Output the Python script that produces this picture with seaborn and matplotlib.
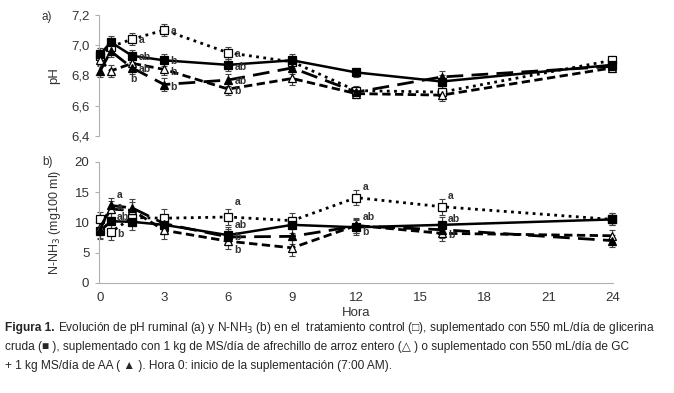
import matplotlib
matplotlib.use("Agg")
import matplotlib.pyplot as plt
import seaborn as sns
import pandas as pd

sns.set_style("white")
plt.rcParams['font.family'] = ['Liberation Sans', 'DejaVu Sans']

# ---- data ----
hours = [0, 0.5, 1.5, 3, 6, 9, 12, 16, 24]
treatments = ["Control", "Glicerina cruda", "Afrechillo de arroz", "GC + AA"]

ph_control = [6.93, 6.99, 7.04, 7.10, 6.95, 6.89, 6.70, 6.69, 6.90]
ph_gc = [6.94, 7.02, 6.93, 6.90, 6.87, 6.90, 6.82, 6.76, 6.87]
ph_aa = [6.90, 6.83, 6.88, 6.84, 6.71, 6.78, 6.68, 6.67, 6.85]
ph_gcaa = [6.83, 6.96, 6.85, 6.74, 6.77, 6.85, 6.69, 6.79, 6.86]
ph_err = [0.04, 0.04, 0.04, 0.04, 0.04, 0.04, 0.03, 0.04, 0.03]

nh3_control = [10.5, 8.4, 10.8, 10.7, 10.9, 10.3, 14.1, 12.6, 10.5]
nh3_gc = [8.6, 10.2, 10.1, 9.6, 7.9, 9.6, 9.2, 9.6, 10.5]
nh3_aa = [9.2, 12.2, 12.0, 8.7, 6.9, 5.8, 9.5, 8.2, 7.8]
nh3_gcaa = [8.8, 12.8, 12.4, 9.8, 7.6, 7.7, 9.4, 8.8, 7.0]
nh3_err = [1.3, 1.3, 1.4, 1.5, 1.3, 1.3, 1.2, 1.3, 1.0]

ph_letters = [  # (hour, value, letter)
    (1.5, 7.04, "a"), (1.5, 6.93, "ab"), (1.5, 6.85, "ab"), (1.1, 6.78, "b"),
    (3, 7.10, "a"), (3, 6.90, "b"), (3, 6.83, "b"), (3, 6.73, "b"),
    (6, 6.95, "a"), (6, 6.86, "ab"), (6, 6.77, "ab"), (6, 6.70, "b"),
]
nh3_letters = [
    (0.5, 14.5, "a"), (0.5, 12.6, "a"), (0.5, 10.9, "ab"), (0.5, 8.1, "b"),
    (6, 13.3, "a"), (6, 9.5, "ab"), (6, 7.6, "b"), (6, 5.5, "b"),
    (12, 15.8, "a"), (12, 10.9, "ab"), (12, 8.5, "b"),
    (16, 14.3, "a"), (16, 10.6, "ab"), (16, 8.0, "b"),
]

styles = {
    "Control": dict(marker="s", mfc="white", ls=(0, (1, 1.6)), lw=2.0),
    "Glicerina cruda": dict(marker="s", mfc="black", ls="-", lw=1.8),
    "Afrechillo de arroz": dict(marker="^", mfc="white", ls=(0, (3, 1.6)), lw=2.0),
    "GC + AA": dict(marker="^", mfc="black", ls=(0, (6, 3)), lw=2.0),
}

ph_df = pd.DataFrame({"Hora": hours * 4,
                      "valor": ph_control + ph_gc + ph_aa + ph_gcaa,
                      "trat": sum([[t] * len(hours) for t in treatments], [])})
nh3_df = pd.DataFrame({"Hora": hours * 4,
                       "valor": nh3_control + nh3_gc + nh3_aa + nh3_gcaa,
                       "trat": sum([[t] * len(hours) for t in treatments], [])})

fig = plt.figure(figsize=(6.74, 3.93), dpi=100)
ax1 = fig.add_axes([0.147, 0.654, 0.763, 0.308])
ax2 = fig.add_axes([0.147, 0.280, 0.763, 0.308])

gray = "#b0b0b0"
tick_color = "#333333"


def draw(ax, df, err, letters, dy):
    for t in treatments:
        st = styles[t]
        sub = df[df["trat"] == t]
        ax.errorbar(sub["Hora"], sub["valor"], yerr=err, fmt="none",
                    ecolor="#444444", elinewidth=0.8, capsize=2.5, capthick=0.8,
                    zorder=2, clip_on=False)
        sns.lineplot(data=sub, x="Hora", y="valor", ax=ax, color="black",
                     marker=st["marker"], markersize=5.5, markerfacecolor=st["mfc"],
                     markeredgecolor="black", markeredgewidth=0.9,
                     linestyle=st["ls"], linewidth=st["lw"], clip_on=False,
                     zorder=3, legend=False)
    for h, v, l in letters:
        ax.text(h + 0.3, v + dy, l, fontsize=7.5, fontweight="bold",
                color="#333333", va="center", ha="left")
    ax.set_xlim(-0.05, 24.05)
    for s in ["top", "right"]:
        ax.spines[s].set_visible(False)
    ax.spines["left"].set_color(gray)
    ax.spines["bottom"].set_color(gray)
    ax.tick_params(axis="y", left=True, length=3, color=gray, labelsize=9.5,
                   labelcolor=tick_color, pad=4)


draw(ax1, ph_df, ph_err, ph_letters, -0.005)
ax1.set_ylim(6.4, 7.2)
ax1.set_yticks([6.4, 6.6, 6.8, 7.0, 7.2])
ax1.set_yticklabels(["6,4", "6,6", "6,8", "7,0", "7,2"])
ax1.spines["bottom"].set_visible(False)
ax1.set_xticks([])
ax1.set_xlabel("")
ax1.set_ylabel("pH", fontsize=9.5, color=tick_color, labelpad=8)

draw(ax2, nh3_df, nh3_err, nh3_letters, 0)
ax2.set_ylim(0, 20)
ax2.set_yticks([0, 5, 10, 15, 20])
ax2.set_xticks([0, 3, 6, 9, 12, 15, 18, 21, 24])
ax2.tick_params(axis="x", bottom=False, labelsize=9.5, labelcolor=tick_color, pad=3)
ax2.set_xlabel("Hora", fontsize=9.5, color=tick_color, labelpad=2)
ax2.set_ylabel("N-NH$_3$ (mg100 ml)", fontsize=9, color=tick_color, labelpad=8)

fig.text(0.062, 0.958, "a)", fontsize=8.5, color=tick_color, va="center")
fig.text(0.062, 0.588, "b)", fontsize=8.5, color=tick_color, va="center")

cap_fs = 8.6
y0 = 0.165
dl = 0.048
t1 = fig.text(0.008, y0, "Figura 1.", fontsize=cap_fs, fontweight="bold", va="center")
fig.canvas.draw()
bb = t1.get_window_extent()
x1 = (bb.x1 + 3) / fig.bbox.width
fig.text(x1, y0, "Evolución de pH ruminal (a) y N-NH$_3$ (b) en el  tratamiento control (□), "
         "suplementado con 550 mL/día de glicerina", fontsize=cap_fs, va="center")
fig.text(0.008, y0 - dl, "cruda (■ ), suplementado con 1 kg de MS/día de afrechillo de arroz entero (△ ) "
         "o suplementado con 550 mL/día de GC", fontsize=cap_fs, va="center")
fig.text(0.008, y0 - 2 * dl, "+ 1 kg MS/día de AA ( ▲ ). Hora 0: inicio de la suplementación (7:00 AM).",
         fontsize=cap_fs, va="center")

fig.savefig("out.png", dpi=100)
